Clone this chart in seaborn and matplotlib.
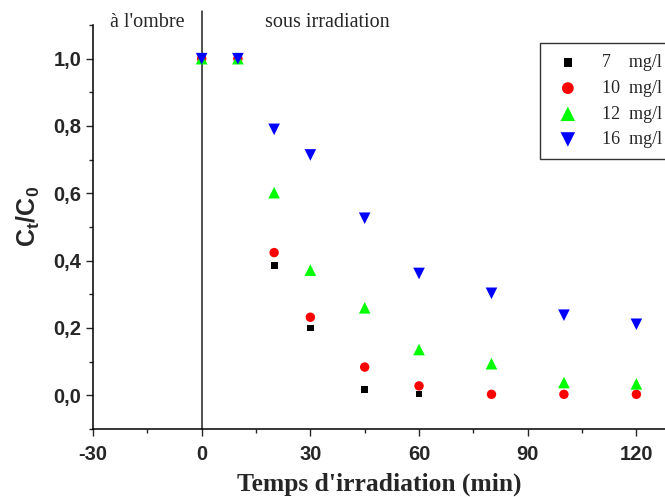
import numpy as np
import pandas as pd
import matplotlib
matplotlib.use("Agg")
import matplotlib.pyplot as plt
from matplotlib.ticker import MultipleLocator, FuncFormatter
import seaborn as sns

# ---- data ----
t_7 = [0, 10, 20, 30, 45, 60]
c_7 = [1.0, 1.0, 0.385, 0.200, 0.018, 0.004]
t_10 = [0, 10, 20, 30, 45, 60, 80, 100, 120]
c_10 = [1.0, 1.0, 0.424, 0.232, 0.084, 0.028, 0.003, 0.003, 0.003]
t_12 = [0, 10, 20, 30, 45, 60, 80, 100, 120]
c_12 = [1.0, 1.0, 0.602, 0.372, 0.260, 0.136, 0.094, 0.038, 0.034]
t_16 = [0, 10, 20, 30, 45, 60, 80, 100, 120]
c_16 = [1.0, 1.0, 0.790, 0.714, 0.526, 0.362, 0.303, 0.238, 0.211]
labels = ["7    mg/l", "10  mg/l", "12  mg/l", "16  mg/l"]
x_ticks = [-30, 0, 30, 60, 90, 120]
y_ticks = [0.0, 0.2, 0.4, 0.6, 0.8, 1.0]

sns.set_style("ticks")
serif = ["Liberation Serif", "DejaVu Serif"]
sans = ["Liberation Sans", "DejaVu Sans"]
plt.rcParams["font.family"] = sans
plt.rcParams["axes.unicode_minus"] = False
plt.rcParams["mathtext.fontset"] = "custom"
plt.rcParams["mathtext.bf"] = "Liberation Sans:bold"
plt.rcParams["mathtext.rm"] = "Liberation Sans"

fig = plt.figure(figsize=(6.65, 4.97), dpi=100)
L, R, T, B = 93, 665, 25, 429
ax = fig.add_axes([L / 665, (497 - B) / 497, (R - L) / 665, (B - T) / 497])

series = [
    (t_7, c_7, labels[0], "s", "black", 24),
    (t_10, c_10, labels[1], "o", "red", 46),
    (t_12, c_12, labels[2], "^", "#00ff00", 70),
    (t_16, c_16, labels[3], "v", "blue", 70),
]
for t, c, lab, m, col, s in series:
    df = pd.DataFrame({"t": t, "c": c})
    sns.scatterplot(data=df, x="t", y="c", marker=m, color=col, s=s,
                    edgecolor="none", label=lab, ax=ax, zorder=3, clip_on=False)

ax.set_xlim(-30, 127.9)
ax.set_ylim(-0.1, 1.1)
ax.axvline(0, ymin=0, ymax=1.035, color="#222222", lw=1.1, clip_on=False, zorder=2)

ax.set_xticks(x_ticks)
ax.set_yticks(y_ticks)
ax.xaxis.set_minor_locator(MultipleLocator(15))
ax.yaxis.set_minor_locator(MultipleLocator(0.1))
ax.yaxis.set_major_formatter(FuncFormatter(lambda v, p: f"{v:.1f}".replace(".", ",")))
ax.tick_params(which="major", direction="out", length=5, width=1, labelsize=14.5, pad=3.5)
ax.tick_params(axis="x", which="major", pad=6.5)
ax.tick_params(which="minor", direction="out", length=3, width=1)
for lab in ax.get_xticklabels() + ax.get_yticklabels():
    lab.set_fontweight("bold")

for sp in ["top", "right"]:
    ax.spines[sp].set_visible(False)
for sp in ["left", "bottom"]:
    ax.spines[sp].set_linewidth(1.1)
    ax.spines[sp].set_color("black")

ax.set_xlabel("Temps d'irradiation (min)", fontsize=18.4, fontweight="bold",
              family=serif, labelpad=6)
ax.set_ylabel(r"$\mathbf{C_t/C_0}$", fontsize=18)
ax.yaxis.set_label_coords(-0.089, 0.525)

ax.text(-15.1, 1.108, "à l'ombre", family=serif, fontsize=14.5, ha="center", va="center")
ax.text(34.7, 1.108, "sous irradiation", family=serif, fontsize=14.5, ha="center", va="center")

leg = ax.legend(loc="upper left", bbox_to_anchor=(539.5 / 665, 1 - 43 / 497),
                bbox_transform=fig.transFigure, frameon=True, fancybox=False,
                edgecolor="black", prop={"family": serif, "size": 13},
                handletextpad=0.94, labelspacing=0.48, borderpad=0.62,
                borderaxespad=0, handlelength=1.9, markerscale=1.25)
leg.get_frame().set_linewidth(1.0)

fig.savefig("out.png", dpi=100)
